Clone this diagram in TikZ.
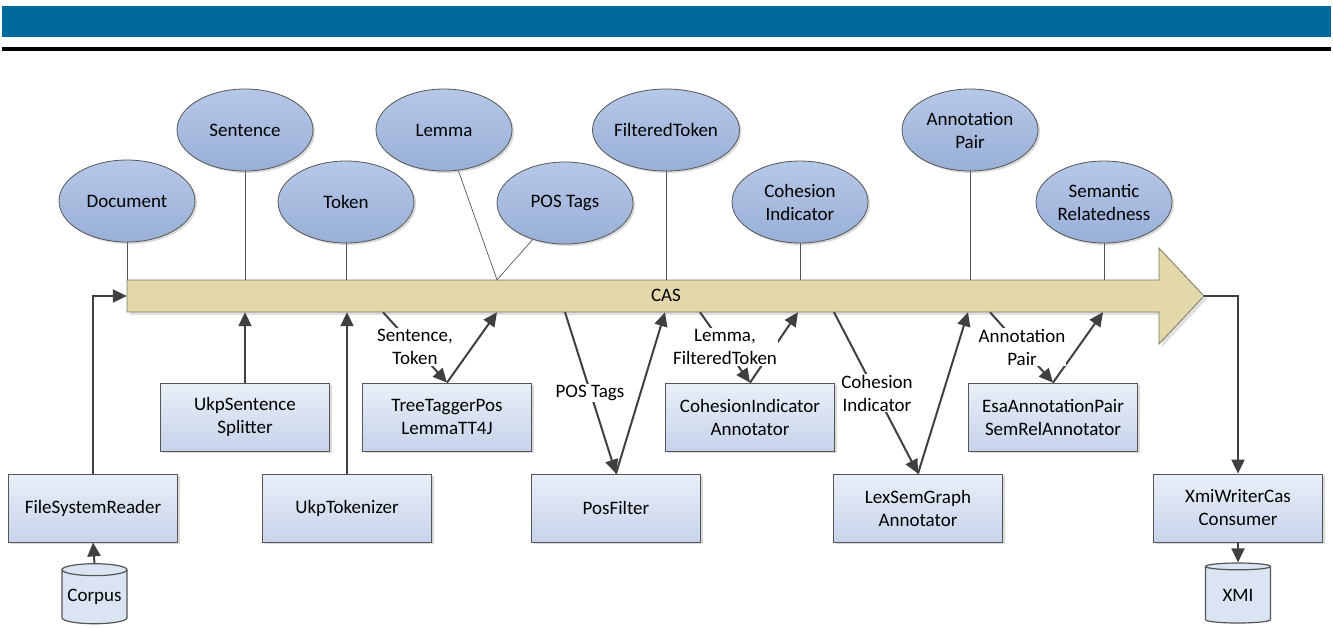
\documentclass[tikz,border=0pt]{standalone}
\usepackage{fontspec}
\setmainfont{Carlito}
\usetikzlibrary{shapes.geometric,arrows.meta,shadows}
\definecolor{banner}{RGB}{0,105,156}
\definecolor{casfill}{RGB}{226,216,170}
\definecolor{casedge}{RGB}{120,120,100}
\definecolor{ellTop}{RGB}{182,200,232}
\definecolor{ellBot}{RGB}{153,175,215}
\definecolor{boxTop}{RGB}{234,239,248}
\definecolor{boxBot}{RGB}{198,211,235}
\definecolor{dbfill}{RGB}{218,228,243}
\definecolor{conn}{RGB}{64,64,64}
\definecolor{edge}{RGB}{85,85,85}
\newcommand{\dfont}{\fontsize{19}{23}\selectfont}
\tikzset{
  ent/.style={ellipse, draw=edge, line width=0.8pt, top color=ellTop, bottom color=ellBot,
    minimum width=136pt, minimum height=82pt, inner sep=0pt, align=center, font=\dfont,
    drop shadow={shadow xshift=2pt, shadow yshift=-2pt, fill=black, opacity=0.15}},
  comp/.style={rectangle, draw=edge, line width=0.8pt, top color=boxTop, bottom color=boxBot,
    minimum width=169pt, minimum height=68pt, inner sep=0pt, align=center, font=\dfont,
    drop shadow={shadow xshift=2pt, shadow yshift=-2pt, fill=black, opacity=0.15}},
  db/.style={cylinder, shape border rotate=90, aspect=0.22, draw=edge, line width=1.2pt,
    fill=dbfill, minimum width=65pt, minimum height=60pt, inner sep=0pt, font=\dfont},
  conn/.style={draw=conn, line width=2pt, -{Triangle[length=14pt,width=13pt]}},
  tie/.style={draw=edge, line width=0.7pt},
  lbl/.style={fill=white, inner sep=1pt, align=center, font=\dfont},
}
\begin{document}
\begin{tikzpicture}[x=1pt,y=-1pt]
\useasboundingbox (0,0) rectangle (1333,627);
% banner
\fill[banner] (2,6) rectangle (1331,37);
\fill[black] (2,47) rectangle (1331,51);

% CAS arrow
\node[minimum width=1033pt, minimum height=32pt, inner sep=0pt] (cas) at (643.5,296) {};
\coordinate (castip) at (1204,296);
\fill[black, opacity=0.12] (130,283) -- (1162,283) -- (1162,251) -- (1207,299) -- (1162,347) -- (1162,315) -- (130,315) -- cycle;
\filldraw[fill=casfill, draw=casedge, line width=0.8pt] (127,280) -- (1159,280) -- (1159,248) -- (castip) -- (1159,344) -- (1159,312) -- (127,312) -- cycle;
\node[font=\dfont] (caslbl) at (666,295) {CAS};

% ellipses
\node[ent] (doc) at (127,201) {Document};
\node[ent] (sent) at (245,130) {Sentence};
\node[ent] (tok) at (346,202) {Token};
\node[ent] (lem) at (444,130) {Lemma};
\node[ent] (pos) at (565,203) {POS Tags};
\node[ent] (ftok) at (666,130) {FilteredToken};
\node[ent] (coh) at (800,202) {Cohesion\\Indicator};
\node[ent] (ap) at (970,130) {Annotation\\Pair};
\node[ent] (sem) at (1104,202) {Semantic\\Relatedness};

% ties to CAS
\draw[tie] (doc.south) -- (doc.south |- cas.north);
\draw[tie] (sent.south) -- (sent.south |- cas.north);
\draw[tie] (tok.south) -- (tok.south |- cas.north);
\draw[tie] (lem) -- (cas.north -| 497,0);
\draw[tie] (pos) -- (cas.north -| 497,0);
\draw[tie] (ftok.south) -- (ftok.south |- cas.north);
\draw[tie] (coh.south) -- (coh.south |- cas.north);
\draw[tie] (ap.south) -- (ap.south |- cas.north);
\draw[tie] (sem.south) -- (sem.south |- cas.north);

% components
\node[comp] (fsr) at (93,508) {FileSystemReader};
\node[comp] (ukps) at (245,417) {UkpSentence\\Splitter};
\node[comp] (ukpt) at (347,508) {UkpTokenizer};
\node[comp] (tree) at (447,417) {TreeTaggerPos\\LemmaTT4J};
\node[comp] (posf) at (616,508) {PosFilter};
\node[comp] (cia) at (750,417) {CohesionIndicator\\Annotator};
\node[comp] (lex) at (918,508) {LexSemGraph\\Annotator};
\node[comp] (esa) at (1053,417) {EsaAnnotationPair\\SemRelAnnotator};
\node[comp] (xmiw) at (1238,508) {XmiWriterCas\\Consumer};

% databases
\node[db] (corpus) at (94.5,597) {Corpus};
\node[db] (xmi) at (1238,595) {XMI};

% connectors
\draw[conn] (corpus.top) -- (fsr.south);
\draw[conn] (fsr.north) |- (cas.west);
\draw[conn] (ukps.north) -- (ukps.north |- cas.south);
\draw[conn] (ukpt.north) -- (ukpt.north |- cas.south);
\draw[conn] (cas.south -| 383,0) -- (tree.north);
\draw[conn] (tree.north) -- (cas.south -| 497,0);
\draw[conn] (cas.south -| 565,0) -- (posf.north);
\draw[conn] (posf.north) -- (cas.south -| 665,0);
\draw[conn] (cas.south -| 700,0) -- (cia.north);
\draw[conn] (cia.north) -- (cas.south -| 798,0);
\draw[conn] (cas.south -| 834,0) -- (lex.north);
\draw[conn] (lex.north) -- (cas.south -| 968,0);
\draw[conn] (cas.south -| 990,0) -- (esa.north);
\draw[conn] (esa.north) -- (cas.south -| 1103,0);
\draw[conn] (castip) -| (xmiw.north);
\draw[conn] (xmiw.south) -- (xmi.top);

% connector labels
\node[lbl] (l1) at (415,347) {Sentence,\\Token};
\node[lbl] (l2) at (590,393) {POS Tags};
\node[lbl] (l3) at (725,347) {Lemma,\\FilteredToken};
\node[lbl] (l4) at (877,393) {Cohesion\\Indicator};
\node[lbl] (l5) at (1022,347) {Annotation\\Pair};
\end{tikzpicture}
\end{document}
